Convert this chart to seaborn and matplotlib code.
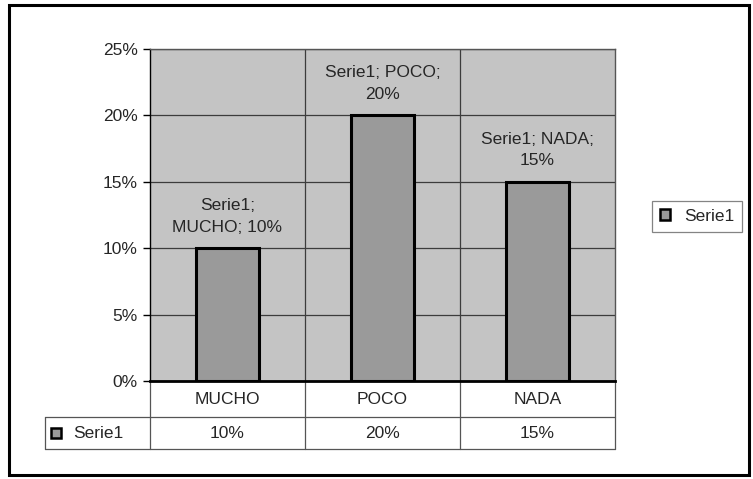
import matplotlib
matplotlib.use("Agg")
import matplotlib.pyplot as plt
import matplotlib.patches as mpatches
import matplotlib.ticker as mticker
import pandas as pd
import seaborn as sns

# --- data ---
categories = ["MUCHO", "POCO", "NADA"]
values = [0.10, 0.20, 0.15]
series_name = "Serie1"
# where Excel wrapped each data label (after which ';'-separated chunk)
label_wrap_after = [1, 2, 2]

sns.set_style("white")
plt.rcParams["font.family"] = ["Liberation Sans", "DejaVu Sans"]
FS = 12.5
plt.rcParams["font.size"] = FS

BAR_COLOR = "#9a9a9a"
PLOT_BG = "#c4c4c4"
GRID = "#3c3c3c"

df = pd.DataFrame({"category": categories, "value": values})

W, H = 753, 479
fig = plt.figure(figsize=(W / 100, H / 100), dpi=100)
ax = fig.add_axes([150 / W, (H - 381) / H, 465 / W, 332 / H])

sns.barplot(data=df, x="category", y="value", ax=ax, color=BAR_COLOR,
            saturation=1, width=0.41, edgecolor="black", linewidth=2.2,
            zorder=3)

ax.set_facecolor(PLOT_BG)
ax.set_xlim(-0.5, len(categories) - 0.5)
ax.set_ylim(0, 0.25)
ax.set_yticks([0, 0.05, 0.10, 0.15, 0.20, 0.25])
ax.yaxis.set_major_formatter(mticker.PercentFormatter(1.0, decimals=0))
ax.set_axisbelow(True)
ax.yaxis.grid(True, color=GRID, linewidth=0.9)
for b in range(len(categories) - 1):
    ax.axvline(b + 0.5, color=GRID, linewidth=0.9, zorder=1)
ax.set_xlabel("")
ax.set_ylabel("")
ax.tick_params(axis="x", length=0, labelbottom=False)
ax.tick_params(axis="y", length=5, width=1, color="black", pad=4,
               labelsize=FS, direction="out", left=True)
for side in ["top", "right"]:
    ax.spines[side].set_color("#555555")
    ax.spines[side].set_linewidth(1)
ax.spines["left"].set_color("black")
ax.spines["left"].set_linewidth(1)
ax.spines["bottom"].set_color("black")
ax.spines["bottom"].set_linewidth(2)

# data labels above each bar
for patch, cat, val, brk in zip(ax.patches, categories, values, label_wrap_after):
    parts = [series_name, cat, f"{val:.0%}"]
    text = "; ".join(parts[:brk]) + ";\n" + "; ".join(parts[brk:])
    ax.annotate(text, (patch.get_x() + patch.get_width() / 2, patch.get_height()),
                xytext=(0, 12), textcoords="offset points",
                ha="center", va="baseline", fontsize=FS, linespacing=1.55)

# data table below the plot
tr = ax.get_xaxis_transform()
y1 = -36 / 332
y2 = -68 / 332
n = len(categories)
x_left = -0.5 - 105 / 155
line_kw = dict(color="#555555", linewidth=0.9, transform=tr, clip_on=False)
ax.plot([x_left, n - 0.5], [y1, y1], **line_kw)
ax.plot([x_left, n - 0.5], [y2, y2], **line_kw)
ax.plot([x_left, x_left], [y1, y2], **line_kw)
for b in range(n + 1):
    ax.plot([b - 0.5, b - 0.5], [0, y2], **line_kw)
for i, (cat, val) in enumerate(zip(categories, values)):
    ax.text(i, y1 / 2, cat, transform=tr, ha="center", va="center", fontsize=FS)
    ax.text(i, (y1 + y2) / 2, f"{val:.0%}", transform=tr, ha="center",
            va="center", fontsize=FS)
ax.plot([-0.5 - 94 / 155], [(y1 + y2) / 2], marker="s", markersize=7,
        markerfacecolor=BAR_COLOR, markeredgecolor="black", markeredgewidth=1.8,
        transform=tr, clip_on=False)
ax.text(-0.5 - 77 / 155, (y1 + y2) / 2, series_name, transform=tr,
        ha="left", va="center", fontsize=FS)

# legend on the right
handle = mpatches.Patch(facecolor=BAR_COLOR, edgecolor="black", linewidth=1.8,
                        label=series_name)
leg = fig.legend(handles=[handle], loc="upper left",
                 bbox_to_anchor=(652 / W, 1 - 201 / H), frameon=True,
                 fancybox=False, edgecolor="#666666", handlelength=0.6,
                 handleheight=0.6, handletextpad=0.8, borderpad=0.45,
                 borderaxespad=0, fontsize=FS)
leg.get_frame().set_linewidth(0.9)

# outer chart border
fig.patches.append(mpatches.Rectangle((9 / W, 4 / H), 740 / W, 470 / H,
                                      transform=fig.transFigure, fill=False,
                                      edgecolor="black", linewidth=2.2))

fig.savefig("out.png", dpi=100)
